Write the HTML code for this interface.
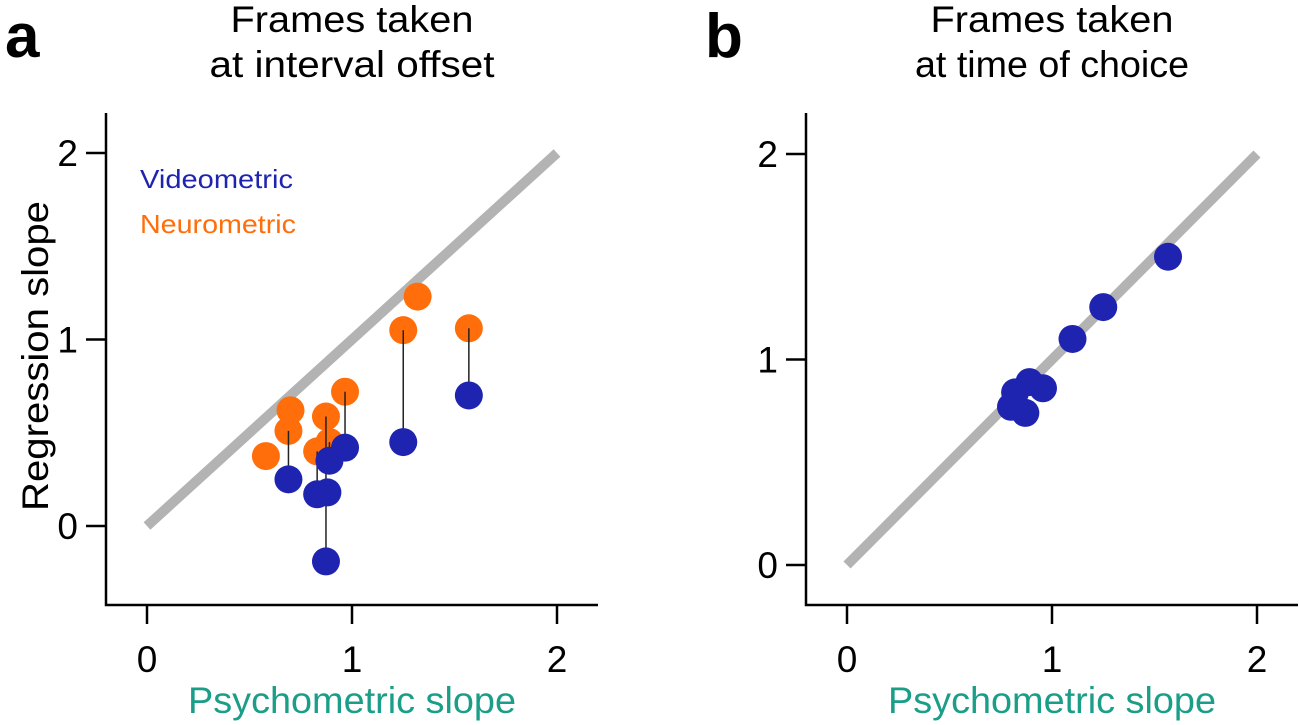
<!DOCTYPE html>
<html><head><meta charset="utf-8"><style>
html,body{margin:0;padding:0;background:#fff;}
svg{display:block;font-family:"Liberation Sans",Arial,sans-serif;}
</style></head><body>
<svg id="fig" width="1299" height="725" viewBox="0 0 1299 725">
<g id="pa"></g>
<g id="pb"></g>
</svg>
<script>
// Panel a data
const aPairX = [0.69, 1.25, 1.57, 0.966, 0.873, 0.83, 0.89];
const aNeuroPairY = [0.51, 1.05, 1.06, 0.72, 0.587, 0.40, 0.45];
const aVideoPairY = [0.25, 0.45, 0.70, 0.42, -0.19, 0.17, 0.35];
const aNeuroExtraX = [1.32, 0.70, 0.58];
const aNeuroExtraY = [1.23, 0.62, 0.375];
const aVideoExtraX = [0.88];
const aVideoExtraY = [0.18];
// Panel b data
const bX = [1.566, 1.25, 1.10, 0.89, 0.956, 0.82, 0.80, 0.87];
const bY = [1.50, 1.255, 1.10, 0.89, 0.86, 0.84, 0.77, 0.74];
const xTicks = [0, 1, 2];
const yTicks = [0, 1, 2];

const NS = "http://www.w3.org/2000/svg";
function mk(parent, tag, attrs, text) {
  const e = document.createElementNS(NS, tag);
  for (const k in attrs) e.setAttribute(k, attrs[k]);
  if (text !== undefined) e.textContent = text;
  parent.appendChild(e);
  return e;
}
const BLUE = "#1f24b0", ORANGE = "#ff6e0a", R = 14;

function panel(g, cfg) {
  const sx = v => cfg.x0 + v * cfg.xs;
  const sy = v => cfg.y0 - v * cfg.ys;
  let e = mk(g, "path", {d: `M${cfg.ax},${cfg.ytop} L${cfg.ax},605 L${cfg.xend},605`, fill: "none", stroke: "#000", "stroke-width": 2.5});
  
  
  xTicks.forEach(t => {
    const l = mk(g, "line", {x1: sx(t), x2: sx(t), y1: 605, y2: 624, stroke: "#000", "stroke-width": 2.5});
    
    
    const tx = mk(g, "text", {x: sx(t), y: 672, "font-size": 37, "text-anchor": "middle"}, String(t));
    
    
  });
  yTicks.forEach(t => {
    const l = mk(g, "line", {x1: cfg.ax - 20, x2: cfg.ax, y1: sy(t), y2: sy(t), stroke: "#000", "stroke-width": 2.5});
    
    
    const tx = mk(g, "text", {x: cfg.ax - 28, y: sy(t) + 13, "font-size": 37, "text-anchor": "end"}, String(t));
    
    
  });
  e = mk(g, "line", {x1: sx(0), y1: sy(0), x2: sx(2), y2: sy(2), stroke: "#b3b3b3", "stroke-width": 10});
  
  
  e = mk(g, "text", {x: sx(1), y: 713, "font-size": 37, "text-anchor": "middle", fill: "#1a9e88", textLength: 328, lengthAdjust: "spacingAndGlyphs"}, "Psychometric slope");
  
  
  e = mk(g, "text", {x: sx(1), y: 32, "font-size": 37, "text-anchor": "middle", textLength: 243, lengthAdjust: "spacingAndGlyphs"}, "Frames taken");
  
  
  e = mk(g, "text", {x: sx(1), y: 77, "font-size": 37, "text-anchor": "middle", textLength: cfg.subW, lengthAdjust: "spacingAndGlyphs"}, cfg.sub);
  
  
  e = mk(g, "text", {x: cfg.lx, y: 57, "font-size": 62, "font-weight": "bold"}, cfg.letter);
  
  
  return {sx, sy};
}

const ga = document.getElementById("pa");
const A = panel(ga, {x0: 147, xs: 205, y0: 526, ys: 186.5, ax: 106, ytop: 113, xend: 598, sub: "at interval offset", subW: 285, letter: "a", lx: 5});
let e = mk(ga, "text", {x: 48, y: 356, "font-size": 37, "text-anchor": "middle", transform: "rotate(-90 48 356)", textLength: 310, lengthAdjust: "spacingAndGlyphs"}, "Regression slope");


e = mk(ga, "text", {x: 140, y: 188, "font-size": 26, fill: BLUE, textLength: 153, lengthAdjust: "spacingAndGlyphs"}, "Videometric");


e = mk(ga, "text", {x: 140, y: 233, "font-size": 26, fill: ORANGE, textLength: 156, lengthAdjust: "spacingAndGlyphs"}, "Neurometric");



aNeuroExtraX.forEach((x, i) => {
  const c = mk(ga, "circle", {cx: A.sx(x), cy: A.sy(aNeuroExtraY[i]), r: R, fill: ORANGE});
  
  
});
aPairX.forEach((x, i) => {
  const c = mk(ga, "circle", {cx: A.sx(x), cy: A.sy(aNeuroPairY[i]), r: R, fill: ORANGE});
  
  
});
aPairX.forEach((x, i) => {
  const l = mk(ga, "line", {x1: A.sx(x), x2: A.sx(x), y1: A.sy(aNeuroPairY[i]), y2: A.sy(aVideoPairY[i]), stroke: "#222", "stroke-width": 1.5});
  
  
});
aVideoExtraX.forEach((x, i) => {
  const c = mk(ga, "circle", {cx: A.sx(x), cy: A.sy(aVideoExtraY[i]), r: R, fill: BLUE});
  
  
});
aPairX.forEach((x, i) => {
  const c = mk(ga, "circle", {cx: A.sx(x), cy: A.sy(aVideoPairY[i]), r: R, fill: BLUE});
  
  
});

const gb = document.getElementById("pb");
const B = panel(gb, {x0: 847, xs: 205, y0: 565, ys: 205.5, ax: 806, ytop: 113, xend: 1298, sub: "at time of choice", subW: 274, letter: "b", lx: 705});
bX.forEach((x, i) => {
  const c = mk(gb, "circle", {cx: B.sx(x), cy: B.sy(bY[i]), r: R, fill: BLUE});
  
  
});
</script>
</body></html>
